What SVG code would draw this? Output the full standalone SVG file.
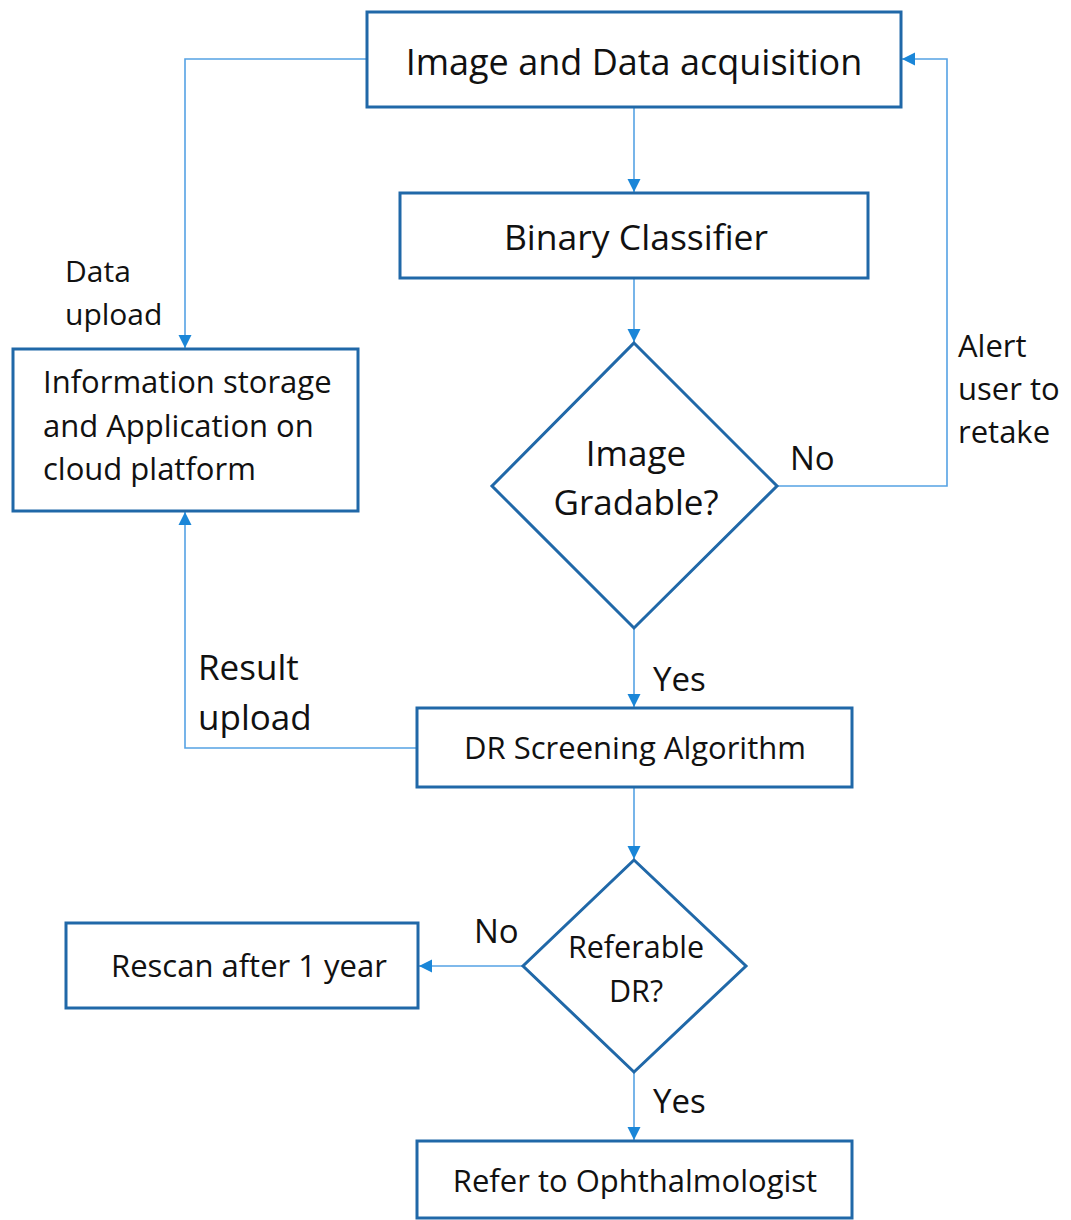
<svg xmlns="http://www.w3.org/2000/svg" width="1071" height="1220" viewBox="0 0 1071 1220">
<style>
.box{fill:#fff;stroke:#2068A8;stroke-width:3}
.t{font-family:"Open Sans","Liberation Sans",sans-serif;fill:#111}
.c{fill:none;stroke:#55A2E4;stroke-width:1.6}
</style>
<defs>
<marker id="ah" markerUnits="userSpaceOnUse" markerWidth="14" markerHeight="14" viewBox="0 0 14 14" refX="13" refY="7" orient="auto">
<path d="M0,0.5 L13,7 L0,13.5 z" fill="#1A86D8"/>
</marker>
</defs>
<rect width="1071" height="1220" fill="#fff"/>
<g id="connectors">
<path class="c" d="M634,107 V192" marker-end="url(#ah)"/>
<path class="c" d="M634,278 V342" marker-end="url(#ah)"/>
<path class="c" d="M367,59 H185 V348" marker-end="url(#ah)"/>
<path class="c" d="M777,486 H947 V59 H902" marker-end="url(#ah)"/>
<path class="c" d="M634,628 V707" marker-end="url(#ah)"/>
<path class="c" d="M417,748 H185 V512" marker-end="url(#ah)"/>
<path class="c" d="M634,787 V859" marker-end="url(#ah)"/>
<path class="c" d="M523,966 H419" marker-end="url(#ah)"/>
<path class="c" d="M634,1072 V1140" marker-end="url(#ah)"/>
</g>
<g id="labels">
<text class="t" x="65" y="282" font-size="30">Data</text>
<text class="t" x="65" y="325" font-size="30">upload</text>
<text class="t" x="958" y="357" font-size="31">Alert</text>
<text class="t" x="958" y="400" font-size="31">user to</text>
<text class="t" x="958" y="443" font-size="31">retake</text>
<text class="t" x="790" y="470" font-size="33">No</text>
<text class="t" x="653" y="691" font-size="33">Yes</text>
<text class="t" x="198" y="680" font-size="35">Result</text>
<text class="t" x="198" y="730" font-size="35">upload</text>
<text class="t" x="474" y="943" font-size="33">No</text>
<text class="t" x="653" y="1113" font-size="33">Yes</text>
</g>
<g id="acquisition">
<rect class="box" x="367" y="12" width="534" height="95"/>
<text class="t" x="634" y="75" font-size="36" text-anchor="middle">Image and Data acquisition</text>
</g>
<g id="classifier">
<rect class="box" x="400" y="193" width="468" height="85"/>
<text class="t" x="636" y="250" font-size="35.5" text-anchor="middle">Binary Classifier</text>
</g>
<g id="gradable">
<polygon class="box" points="634,343 777,486 634,628 492,486"/>
<text class="t" x="636" y="466" font-size="35" text-anchor="middle">Image</text>
<text class="t" x="636" y="515" font-size="35" text-anchor="middle">Gradable?</text>
</g>
<g id="storage">
<rect class="box" x="13" y="349" width="345" height="162"/>
<text class="t" x="43" y="393" font-size="31">Information storage</text>
<text class="t" x="43" y="437" font-size="31">and Application on</text>
<text class="t" x="43" y="480" font-size="31">cloud platform</text>
</g>
<g id="screening">
<rect class="box" x="417" y="708" width="435" height="79"/>
<text class="t" x="635" y="759" font-size="31" text-anchor="middle">DR Screening Algorithm</text>
</g>
<g id="referable">
<polygon class="box" points="634,860 746,966 634,1072 523,966"/>
<text class="t" x="636" y="958" font-size="30.5" text-anchor="middle">Referable</text>
<text class="t" x="636" y="1002" font-size="30.5" text-anchor="middle">DR?</text>
</g>
<g id="rescan">
<rect class="box" x="66" y="923" width="352" height="85"/>
<text class="t" x="111" y="977" font-size="31">Rescan after 1 year</text>
</g>
<g id="refer">
<rect class="box" x="417" y="1141" width="435" height="77"/>
<text class="t" x="635" y="1192" font-size="31" text-anchor="middle">Refer to Ophthalmologist</text>
</g>
</svg>
